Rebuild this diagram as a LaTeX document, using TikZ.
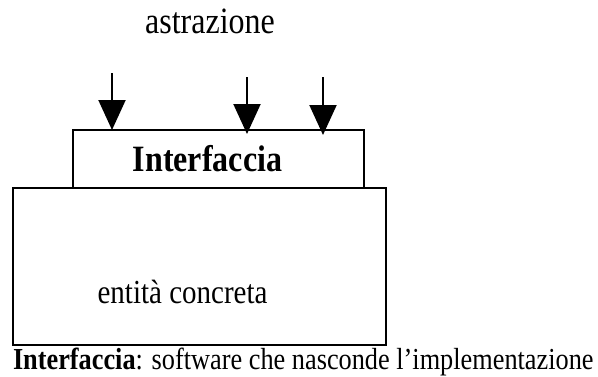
\documentclass[tikz,border=0pt]{standalone}
\usepackage{fontspec}
\setmainfont{Liberation Serif}
\usetikzlibrary{arrows.meta}
\newcommand{\tallt}[1]{\scalebox{1}[1.16]{#1}}

\begin{document}
\begin{tikzpicture}[x=1pt,y=1pt,line width=2pt,
    box/.style={draw, rectangle, inner sep=0pt, outer sep=0pt},
    arrowdown/.style={-{Triangle[width=27pt,length=30pt]}}]
  \useasboundingbox (0,0) rectangle (598,376);
  %
  \node[box, anchor=south west, minimum width=373pt, minimum height=157pt] (entita) at (13,31) {};
  \node[box, anchor=south west, minimum width=291pt, minimum height=58pt] (iface) at (73,188) {};
  %
  \node[anchor=base, font=\fontsize{32}{36}\selectfont] (astr) at (210,343) {\tallt{astrazione}};
  \node[anchor=base, font=\bfseries\fontsize{32}{36}\selectfont] (ifacelbl) at (207.5,204.5) {\tallt{Interfaccia}};
  \node[anchor=base, font=\fontsize{29}{32}\selectfont] (entlbl) at (182.5,73) {\tallt{entità concreta}};
  \node[anchor=base west, inner sep=0pt, font=\fontsize{26.3}{30}\selectfont] (caption) at (12,6.5)
    {\tallt{\textbf{Interfaccia}: software che nasconde l’implementazione}};
  %
  \coordinate (src1) at (112,303);
  \coordinate (src2) at (247,299);
  \coordinate (src3) at (323,299);
  \coordinate (dst1) at (112,246);
  \coordinate (dst2) at (247,242);
  \coordinate (dst3) at (323,241);
  \draw[arrowdown] (src1) -- (dst1);
  \draw[arrowdown] (src2) -- (dst2);
  \draw[arrowdown] (src3) -- (dst3);
\end{tikzpicture}
\end{document}
